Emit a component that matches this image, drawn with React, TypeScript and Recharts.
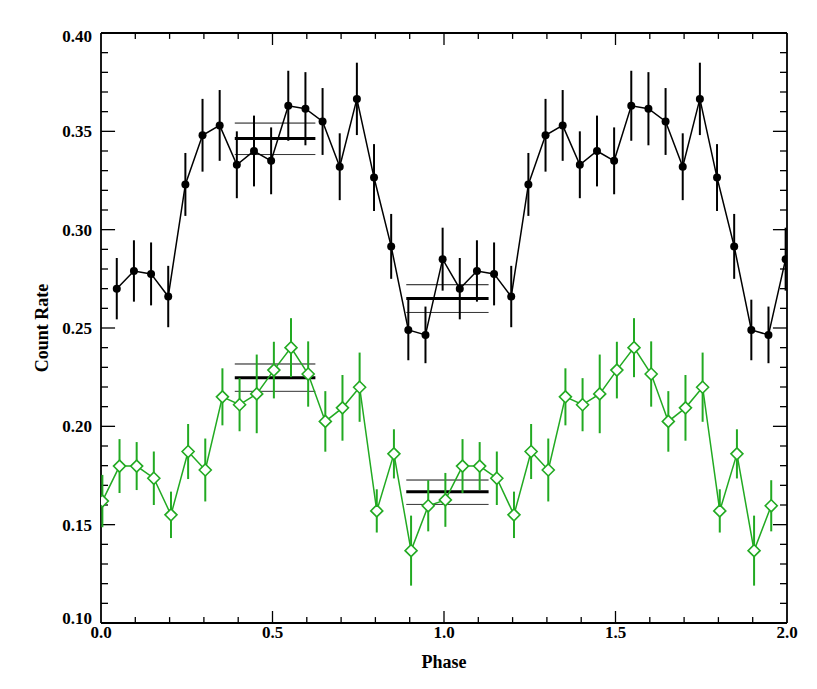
import { ComposedChart, Line, XAxis, YAxis, ErrorBar, ReferenceLine } from 'recharts'

// phase bins, folded light curve plotted over two cycles
const blackPhase = [
  0.05, 0.10, 0.15, 0.20, 0.25, 0.30, 0.35, 0.40, 0.45, 0.50,
  0.55, 0.60, 0.65, 0.70, 0.75, 0.80, 0.85, 0.90, 0.95, 1.00,
  1.05, 1.10, 1.15, 1.20, 1.25, 1.30, 1.35, 1.40, 1.45, 1.50,
  1.55, 1.60, 1.65, 1.70, 1.75, 1.80, 1.85, 1.90, 1.95, 2.00,
]
const blackRate = [
  0.270, 0.279, 0.2775, 0.266, 0.323, 0.348, 0.353, 0.333, 0.340, 0.335,
  0.363, 0.3615, 0.355, 0.332, 0.3665, 0.3265, 0.2915, 0.249, 0.2465, 0.285,
  0.270, 0.279, 0.2775, 0.266, 0.323, 0.348, 0.353, 0.333, 0.340, 0.335,
  0.363, 0.3615, 0.355, 0.332, 0.3665, 0.3265, 0.2915, 0.249, 0.2465, 0.285,
]
const blackErr = [
  0.0156, 0.0156, 0.016, 0.0156, 0.016, 0.0185, 0.018, 0.017, 0.018, 0.017,
  0.0178, 0.0186, 0.017, 0.017, 0.0184, 0.017, 0.0165, 0.0154, 0.0144, 0.016,
  0.0156, 0.0156, 0.016, 0.0156, 0.016, 0.0185, 0.018, 0.017, 0.018, 0.017,
  0.0178, 0.0186, 0.017, 0.017, 0.0184, 0.017, 0.0165, 0.0154, 0.0144, 0.016,
]

const greenPhase = [
  0.00, 0.05, 0.10, 0.15, 0.20, 0.25, 0.30, 0.35, 0.40, 0.45,
  0.50, 0.55, 0.60, 0.65, 0.70, 0.75, 0.80, 0.85, 0.90, 0.95,
  1.00, 1.05, 1.10, 1.15, 1.20, 1.25, 1.30, 1.35, 1.40, 1.45,
  1.50, 1.55, 1.60, 1.65, 1.70, 1.75, 1.80, 1.85, 1.90, 1.95,
]
const greenRate = [
  0.162, 0.1798, 0.1798, 0.1736, 0.155, 0.1872, 0.1778, 0.215, 0.211, 0.2165,
  0.2286, 0.240, 0.2266, 0.2025, 0.2094, 0.2199, 0.157, 0.186, 0.1368, 0.1596,
  0.1626, 0.1798, 0.1798, 0.1736, 0.155, 0.1872, 0.1778, 0.215, 0.211, 0.2165,
  0.2286, 0.240, 0.2266, 0.2025, 0.2094, 0.2199, 0.157, 0.186, 0.1368, 0.1596,
]
const greenErr = [
  0.0133, 0.0137, 0.0122, 0.0136, 0.0118, 0.014, 0.016, 0.0145, 0.0135, 0.020,
  0.0144, 0.015, 0.0166, 0.0154, 0.0167, 0.0176, 0.011, 0.0125, 0.0178, 0.013,
  0.0137, 0.0137, 0.0122, 0.0136, 0.0118, 0.014, 0.016, 0.0145, 0.0135, 0.020,
  0.0144, 0.015, 0.0166, 0.0154, 0.0167, 0.0176, 0.011, 0.0125, 0.0178, 0.013,
]

// mean level over phase intervals: [from, to, mean, low, high]
const blackMeans = [
  [0.39, 0.625, 0.3463, 0.3382, 0.3542],
  [0.89, 1.13, 0.265, 0.2579, 0.272],
]
const greenMeans = [
  [0.39, 0.625, 0.2247, 0.2178, 0.2317],
  [0.89, 1.13, 0.1667, 0.1603, 0.1727],
]

const xTicks = [0, 0.5, 1, 1.5, 2]
const yTicks = [0.1, 0.15, 0.2, 0.25, 0.3, 0.35, 0.4]
const xMinor = [0.1, 0.2, 0.3, 0.4, 0.5, 0.6, 0.7, 0.8, 0.9, 1.0, 1.1, 1.2, 1.3, 1.4, 1.5, 1.6, 1.7, 1.8, 1.9]
const yMinor = [
  0.11, 0.12, 0.13, 0.14, 0.15, 0.16, 0.17, 0.18, 0.19, 0.20,
  0.21, 0.22, 0.23, 0.24, 0.25, 0.26, 0.27, 0.28, 0.29, 0.30,
  0.31, 0.32, 0.33, 0.34, 0.35, 0.36, 0.37, 0.38, 0.39,
]

const GREEN = '#22aa22'
const BLACK_DX = -0.004
const GREEN_DX = 0.004

const blackRows = blackPhase.map((p, i) => ({ x: p + BLACK_DX, y: blackRate[i], err: blackErr[i] }))
const greenRows = greenPhase.map((p, i) => ({ x: p + GREEN_DX, y: greenRate[i], err: greenErr[i] }))

const font = 'Liberation Serif, Times New Roman, serif'

const Diamond = (props: any) => {
  const { cx, cy, index } = props
  if (cx == null || cy == null) return <g key={index} />
  const s = 6
  return (
    <path
      key={index}
      d={`M${cx},${cy - s} L${cx + s},${cy} L${cx},${cy + s} L${cx - s},${cy} Z`}
      fill="#fff"
      stroke={GREEN}
      strokeWidth={1.6}
    />
  )
}

// y labels: the end ones sit a little inside the frame, like the original
const YTick = (props: any) => {
  const { x, y, payload } = props
  const v = payload.value
  let dy = 0
  if (Math.abs(v - 0.4) < 1e-6) dy = 3
  if (Math.abs(v - 0.1) < 1e-6) dy = -5
  return (
    <text x={x} y={y + dy} dy="0.355em" textAnchor="end" fill="#000" fontSize={17} fontWeight="bold" fontFamily={font}>
      {v.toFixed(2)}
    </text>
  )
}

const isMajorX = (v: number) => Math.abs(v * 2 - Math.round(v * 2)) < 1e-6
const isMajorY = (v: number) => Math.abs(v * 20 - Math.round(v * 20)) < 1e-6

export default function App() {
  return (
    <ComposedChart width={800} height={670} margin={{ top: 25, right: 21, left: 0, bottom: 0 }}>
      <XAxis
        dataKey="x"
        type="number"
        domain={[0, 2]}
        ticks={xTicks}
        interval={0}
        allowDataOverflow
        tickFormatter={(v: number) => v.toFixed(1)}
        tick={{ fill: '#000', fontSize: 17, fontWeight: 'bold', fontFamily: font }}
        tickLine={false}
        axisLine={false}
        tickSize={0}
        tickMargin={3}
        height={55}
        label={{ value: 'Phase', position: 'insideBottom', offset: 10, fill: '#000', fontSize: 18, fontWeight: 'bold', fontFamily: font }}
      />
      <YAxis
        type="number"
        domain={[0.1, 0.4]}
        ticks={yTicks}
        interval={0}
        allowDataOverflow
        tick={<YTick />}
        tickLine={false}
        axisLine={false}
        tickSize={0}
        tickMargin={9}
        width={93}
        label={{ value: 'Count Rate', angle: -90, position: 'insideLeft', offset: 34, textAnchor: 'middle', fill: '#000', fontSize: 18, fontWeight: 'bold', fontFamily: font }}
      />

      {/* frame */}
      <ReferenceLine x={0} stroke="#000" strokeWidth={1.8} ifOverflow="visible" />
      <ReferenceLine x={2} stroke="#000" strokeWidth={1.8} ifOverflow="visible" />
      <ReferenceLine y={0.1} stroke="#000" strokeWidth={1.8} ifOverflow="visible" />
      <ReferenceLine y={0.4} stroke="#000" strokeWidth={1.8} ifOverflow="visible" />

      {/* inward ticks, bottom and top */}
      {xMinor.map((v) => {
        const len = isMajorX(v) ? 0.0061 : 0.003
        return [
          <ReferenceLine key={`xb${v}`} segment={[{ x: v, y: 0.1 }, { x: v, y: 0.1 + len }]} stroke="#000" strokeWidth={1.3} ifOverflow="visible" />,
          <ReferenceLine key={`xt${v}`} segment={[{ x: v, y: 0.4 }, { x: v, y: 0.4 - len }]} stroke="#000" strokeWidth={1.3} ifOverflow="visible" />,
        ]
      })}
      {/* inward ticks, left and right */}
      {yMinor.map((v) => {
        const len = isMajorY(v) ? 0.041 : 0.0205
        return [
          <ReferenceLine key={`yl${v}`} segment={[{ x: 0, y: v }, { x: len, y: v }]} stroke="#000" strokeWidth={1.3} ifOverflow="visible" />,
          <ReferenceLine key={`yr${v}`} segment={[{ x: 2, y: v }, { x: 2 - len, y: v }]} stroke="#000" strokeWidth={1.3} ifOverflow="visible" />,
        ]
      })}

      {/* mean levels */}
      {[...blackMeans, ...greenMeans].map((m, i) => [
        <ReferenceLine key={`mm${i}`} segment={[{ x: m[0], y: m[2] }, { x: m[1], y: m[2] }]} stroke="#000" strokeWidth={3} ifOverflow="visible" />,
        <ReferenceLine key={`ml${i}`} segment={[{ x: m[0], y: m[3] }, { x: m[1], y: m[3] }]} stroke="#333" strokeWidth={1} ifOverflow="visible" />,
        <ReferenceLine key={`mh${i}`} segment={[{ x: m[0], y: m[4] }, { x: m[1], y: m[4] }]} stroke="#111" strokeWidth={1} ifOverflow="visible" />,
      ])}

      <Line
        data={greenRows}
        dataKey="y"
        type="linear"
        stroke={GREEN}
        strokeWidth={1.5}
        dot={Diamond}
        activeDot={false}
        isAnimationActive={false}
      >
        <ErrorBar dataKey="err" direction="y" width={0} stroke={GREEN} strokeWidth={2} isAnimationActive={false} />
      </Line>
      <Line
        data={blackRows}
        dataKey="y"
        type="linear"
        stroke="#000"
        strokeWidth={1.5}
        dot={{ r: 4, fill: '#000', stroke: '#000', strokeWidth: 0 }}
        activeDot={false}
        isAnimationActive={false}
      >
        <ErrorBar dataKey="err" direction="y" width={0} stroke="#000" strokeWidth={2} isAnimationActive={false} />
      </Line>
    </ComposedChart>
  )
}
